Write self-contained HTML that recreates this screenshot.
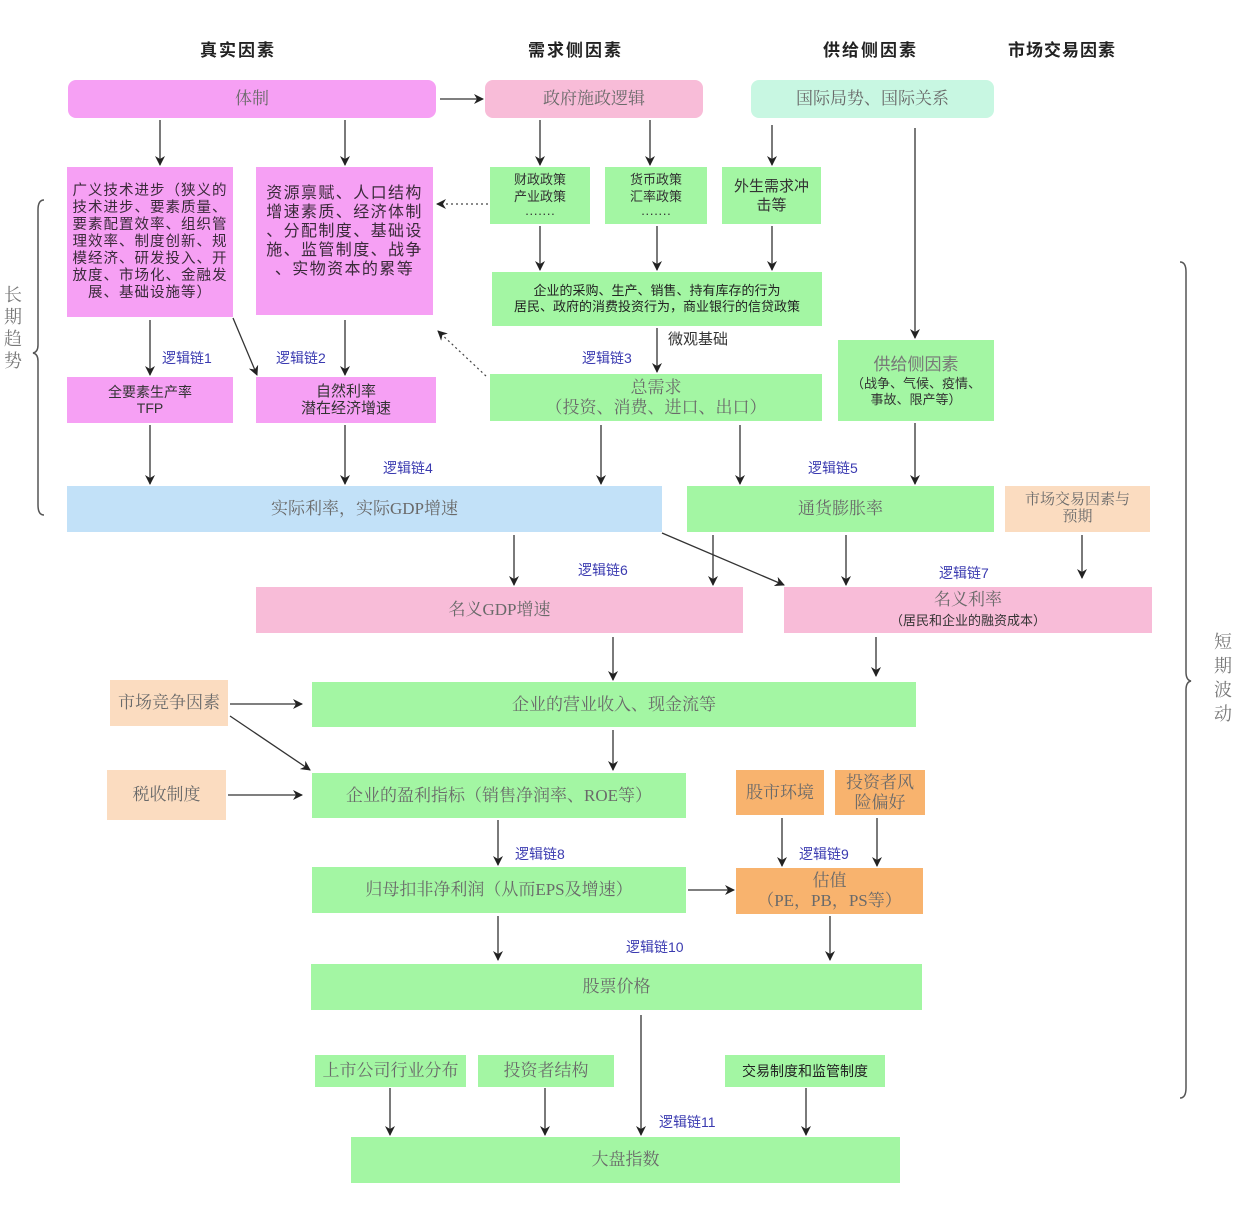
<!DOCTYPE html>
<html><head><meta charset="utf-8">
<style>
body{margin:0;background:#fff;}
#c{position:relative;width:1244px;height:1220px;overflow:hidden;background:#fff;font-family:"Liberation Serif","Noto Serif CJK SC","Noto Sans CJK SC",serif;}
.b{position:absolute;display:flex;align-items:center;justify-content:center;text-align:center;color:#6a6a6a;font-size:17px;line-height:1.15;box-sizing:border-box;}
.s{font-family:"Liberation Sans","Noto Sans CJK SC",sans-serif;color:#333;}
.pk{background:#f6a0f4;}
.g{background:#a3f6a3;}
.lp{background:#f8bcd8;}
.pe{background:#fbdcc0;}
.or{background:#f8b36e;}
.lb{background:#c2e1f8;}
.h{position:absolute;font-family:"Liberation Sans","Noto Sans CJK SC",sans-serif;font-weight:bold;font-size:17px;color:#222;}
.l{position:absolute;font-family:"Liberation Sans","Noto Sans CJK SC",sans-serif;font-size:14px;color:#3a3ab0;}
svg{position:absolute;left:0;top:0;}
</style></head><body><div id="c">
<div class="h" style="left:200px;top:36px;letter-spacing:2px">真实因素</div>
<div class="h" style="left:528px;top:36px;letter-spacing:2px">需求侧因素</div>
<div class="h" style="left:823px;top:36px;letter-spacing:2px">供给侧因素</div>
<div class="h" style="left:1008px;top:36px;letter-spacing:1px">市场交易因素</div>

<div class="b pk" style="left:68px;top:80px;width:368px;height:38px;border-radius:8px">体制</div>
<div class="b lp" style="left:485px;top:80px;width:218px;height:38px;border-radius:8px">政府施政逻辑</div>
<div class="b" style="left:751px;top:80px;width:243px;height:38px;border-radius:8px;background:#c8f7e2">国际局势、国际关系</div>

<div class="b pk s" style="left:67px;top:167px;width:166px;height:150px;font-size:14.5px;letter-spacing:1px;line-height:17px;white-space:nowrap;color:#3a2a3a">广义技术进步（狭义的<br>技术进步、要素质量、<br>要素配置效率、组织管<br>理效率、制度创新、规<br>模经济、研发投入、开<br>放度、市场化、金融发<br>展、基础设施等）</div>
<div class="b pk s" style="left:256px;top:167px;width:177px;height:148px;font-size:16px;letter-spacing:1.4px;line-height:19px;white-space:nowrap;color:#3a2a3a;padding-bottom:20px">资源禀赋、人口结构<br>增速素质、经济体制<br>、分配制度、基础设<br>施、监管制度、战争<br>、实物资本的累等</div>

<div class="b g s" style="left:490px;top:167px;width:100px;height:57px;font-size:13px;align-items:flex-start;padding-top:4px;line-height:17px">财政政策<br>产业政策<br>·······</div>
<div class="b g s" style="left:605px;top:167px;width:102px;height:57px;font-size:13px;align-items:flex-start;padding-top:4px;line-height:17px">货币政策<br>汇率政策<br>·······</div>
<div class="b g s" style="left:722px;top:167px;width:99px;height:57px;font-size:15px;line-height:19px">外生需求冲<br>击等</div>

<div class="b g s" style="left:492px;top:272px;width:330px;height:54px;font-size:13px;line-height:16px;color:#222">企业的采购、生产、销售、持有库存的行为<br>居民、政府的消费投资行为，商业银行的信贷政策</div>

<div class="b pk s" style="left:67px;top:377px;width:166px;height:46px;font-size:14px;color:#333">全要素生产率<br>TFP</div>
<div class="b pk s" style="left:256px;top:377px;width:180px;height:46px;font-size:15px;color:#333">自然利率<br>潜在经济增速</div>
<div class="b g" style="left:490px;top:374px;width:332px;height:47px;font-size:17px">总需求<br>（投资、消费、进口、出口）</div>
<div class="b g s" style="left:838px;top:340px;width:156px;height:81px;font-size:13px;line-height:16px;color:#333"><span><span style="font-size:17px;color:#777;line-height:22px">供给侧因素</span><br>（战争、气候、疫情、<br>事故、限产等）</span></div>

<div class="b lb" style="left:67px;top:486px;width:595px;height:46px">实际利率，实际GDP增速</div>
<div class="b g" style="left:687px;top:486px;width:307px;height:46px">通货膨胀率</div>
<div class="b pe" style="left:1005px;top:486px;width:145px;height:46px;font-size:15px">市场交易因素与<br>预期</div>

<div class="b lp" style="left:256px;top:587px;width:487px;height:46px">名义GDP增速</div>
<div class="b lp" style="left:784px;top:587px;width:368px;height:46px"><span>名义利率<br><span class="s" style="font-size:13px;color:#333">（居民和企业的融资成本）</span></span></div>

<div class="b pe" style="left:110px;top:680px;width:118px;height:46px">市场竞争因素</div>
<div class="b g" style="left:312px;top:682px;width:604px;height:45px">企业的营业收入、现金流等</div>
<div class="b pe" style="left:107px;top:770px;width:119px;height:50px">税收制度</div>
<div class="b g" style="left:312px;top:773px;width:374px;height:45px">企业的盈利指标（销售净润率、ROE等）</div>
<div class="b or" style="left:736px;top:770px;width:88px;height:45px">股市环境</div>
<div class="b or" style="left:835px;top:770px;width:90px;height:45px">投资者风<br>险偏好</div>
<div class="b g" style="left:312px;top:867px;width:374px;height:46px">归母扣非净利润（从而EPS及增速）</div>
<div class="b or" style="left:736px;top:868px;width:187px;height:46px">估值<br>（PE，PB，PS等）</div>
<div class="b g" style="left:311px;top:964px;width:611px;height:46px">股票价格</div>
<div class="b g" style="left:315px;top:1055px;width:151px;height:32px">上市公司行业分布</div>
<div class="b g" style="left:478px;top:1055px;width:136px;height:32px">投资者结构</div>
<div class="b g s" style="left:725px;top:1055px;width:160px;height:32px;font-size:14px;color:#222">交易制度和监管制度</div>
<div class="b g" style="left:351px;top:1137px;width:549px;height:46px">大盘指数</div>

<div class="l" style="left:162px;top:348px">逻辑链1</div>
<div class="l" style="left:276px;top:348px">逻辑链2</div>
<div class="l" style="left:582px;top:348px">逻辑链3</div>
<div class="l" style="left:668px;top:328px;color:#333;font-size:15px">微观基础</div>
<div class="l" style="left:383px;top:458px">逻辑链4</div>
<div class="l" style="left:808px;top:458px">逻辑链5</div>
<div class="l" style="left:578px;top:560px">逻辑链6</div>
<div class="l" style="left:939px;top:563px">逻辑链7</div>
<div class="l" style="left:515px;top:844px">逻辑链8</div>
<div class="l" style="left:799px;top:844px">逻辑链9</div>
<div class="l" style="left:626px;top:937px">逻辑链10</div>
<div class="l" style="left:659px;top:1112px">逻辑链11</div>

<div class="h" style="left:4px;top:284px;width:18px;font-weight:normal;font-size:18px;color:#777;line-height:22px;font-family:'Liberation Serif','Noto Serif CJK SC',serif">长期趋势</div>
<div class="h" style="left:1214px;top:630px;width:18px;font-weight:normal;font-size:18px;color:#777;line-height:24px;font-family:'Liberation Serif','Noto Serif CJK SC',serif">短期波动</div>

<svg width="1244" height="1220" viewBox="0 0 1244 1220">
<defs><marker id="a" markerWidth="10" markerHeight="10" refX="9" refY="5" orient="auto" markerUnits="userSpaceOnUse"><path d="M0,0 L10,5 L0,10 L3,5 Z" fill="#222"/></marker></defs>
<g stroke="#333" stroke-width="1.3" fill="none" marker-end="url(#a)">
<line x1="440" y1="99" x2="483" y2="99"/>
<line x1="160" y1="120" x2="160" y2="165"/>
<line x1="345" y1="120" x2="345" y2="165"/>
<line x1="540" y1="120" x2="540" y2="165"/>
<line x1="650" y1="120" x2="650" y2="165"/>
<line x1="772" y1="125" x2="772" y2="165"/>
<line x1="915" y1="128" x2="915" y2="338"/>
<line x1="540" y1="226" x2="540" y2="270"/>
<line x1="657" y1="226" x2="657" y2="270"/>
<line x1="772" y1="226" x2="772" y2="270"/>
<line x1="657" y1="328" x2="657" y2="372"/>
<line x1="150" y1="320" x2="150" y2="375"/>
<line x1="233" y1="318" x2="257" y2="375"/>
<line x1="345" y1="320" x2="345" y2="375"/>
<line x1="150" y1="425" x2="150" y2="484"/>
<line x1="345" y1="425" x2="345" y2="484"/>
<line x1="601" y1="425" x2="601" y2="484"/>
<line x1="740" y1="425" x2="740" y2="484"/>
<line x1="915" y1="423" x2="915" y2="484"/>
<line x1="514" y1="535" x2="514" y2="585"/>
<line x1="713" y1="535" x2="713" y2="585"/>
<line x1="662" y1="533" x2="784" y2="585"/>
<line x1="846" y1="535" x2="846" y2="585"/>
<line x1="1082" y1="535" x2="1082" y2="578"/>
<line x1="613" y1="637" x2="613" y2="680"/>
<line x1="876" y1="637" x2="876" y2="676"/>
<line x1="230" y1="704" x2="302" y2="704"/>
<line x1="230" y1="716" x2="310" y2="770"/>
<line x1="228" y1="795" x2="302" y2="795"/>
<line x1="613" y1="730" x2="613" y2="770"/>
<line x1="498" y1="820" x2="498" y2="865"/>
<line x1="782" y1="818" x2="782" y2="866"/>
<line x1="877" y1="818" x2="877" y2="866"/>
<line x1="688" y1="890" x2="734" y2="890"/>
<line x1="498" y1="916" x2="498" y2="960"/>
<line x1="830" y1="916" x2="830" y2="960"/>
<line x1="641" y1="1015" x2="641" y2="1135"/>
<line x1="390" y1="1088" x2="390" y2="1135"/>
<line x1="545" y1="1088" x2="545" y2="1135"/>
<line x1="806" y1="1088" x2="806" y2="1135"/>
</g>
<g stroke="#444" stroke-width="1.2" fill="none" stroke-dasharray="2,3" marker-end="url(#a)">
<line x1="488" y1="204" x2="437" y2="204"/>
<line x1="486" y1="376" x2="438" y2="331"/>
</g>
<g stroke="#555" stroke-width="1.5" fill="none">
<path d="M44,200 Q38,200 38,210 L38,345 Q38,352 33,353 Q38,354 38,361 L38,505 Q38,515 44,515"/>
<path d="M1180,262 Q1186,262 1186,272 L1186,672 Q1186,680 1191,681 Q1186,682 1186,690 L1186,1088 Q1186,1098 1180,1098"/>
</g>
</svg>
</div></body></html>
